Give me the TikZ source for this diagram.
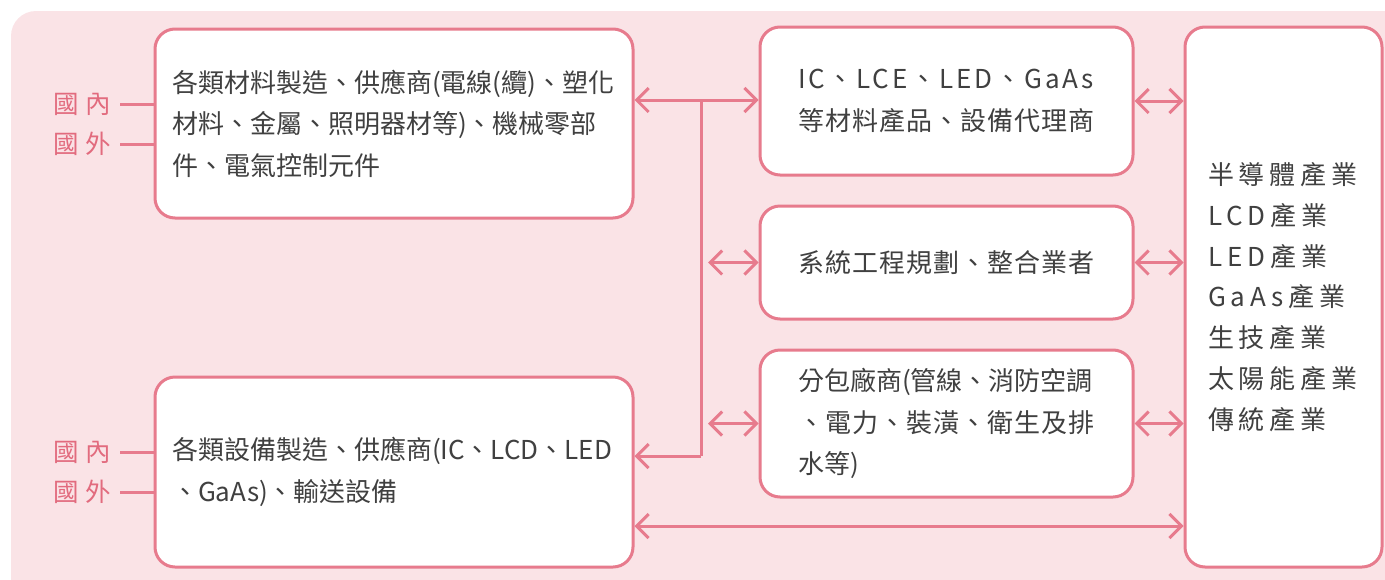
\documentclass[tikz,border=0pt]{standalone}
\usepackage{fontspec}
\setmainfont{Noto Sans CJK TC}
\newfontfamily\cjk{Noto Sans CJK TC}
\newfontfamily\cjkC[LetterSpace=4]{Noto Sans CJK TC}
\newfontfamily\cjkW[LetterSpace=11]{Noto Sans CJK TC}
\newfontfamily\cjkF[LetterSpace=19]{Noto Sans CJK TC}
\usetikzlibrary{arrows.meta,calc}
\definecolor{bgpink}{HTML}{FAE3E6}
\definecolor{pinkline}{HTML}{E77B8D}
\definecolor{labred}{HTML}{E26B7E}
\definecolor{txtgray}{HTML}{404040}
\tikzset{
  box/.style={draw=pinkline, line width=3pt, fill=white, rounded corners=20pt,
    rectangle, align=left, text=txtgray, inner ysep=0pt,
    font=\cjk\fontsize{26}{41.5}\selectfont},
  conn/.style={draw=pinkline, line width=3pt},
  barb/.tip={Straight Barb[length=12pt,width=24pt,line width=3pt]},
  lab/.style={text=labred, inner sep=0pt, font=\cjk\fontsize{25.5}{28}\selectfont},
}
\begin{document}
\begin{tikzpicture}[x=1pt,y=-1pt]
\useasboundingbox (0,0) rectangle (1385,579);
\begin{scope}
\clip (0,0) rectangle (1385,579);
\fill[bgpink, rounded corners=25pt] (11,11) rectangle (1410,610);
\end{scope}
% boxes
\node[box, minimum width=478pt, minimum height=189pt, inner xsep=17pt, text width=444pt] (A) at (394,123.5)
 {各類材料製造、供應商(電線(纜)、塑化\\材料、金屬、照明器材等)、機械零部\\件、電氣控制元件};
\node[box, minimum width=478pt, minimum height=190pt, inner xsep=17pt, text width=444pt] (B) at (394,472)
 {各類設備製造、供應商(IC、LCD、LED\\、GaAs)、輸送設備};
\node[box, minimum width=373pt, minimum height=148pt, inner xsep=38pt, text width=297pt] (C) at (946.5,101)
 {{\cjkW IC、LCE、LED、GaAs}\\{\cjkC 等材料產品、設備代理商}};
\node[box, minimum width=373pt, minimum height=113pt, inner xsep=38pt, text width=297pt] (D) at (946.5,262.5)
 {{\cjkC 系統工程規劃、整合業者}};
\node[box, minimum width=373pt, minimum height=147pt, inner xsep=38pt, text width=297pt] (E) at (946.5,423.5)
 {分包廠商(管線、消防空調\\{\cjkC 、電力、裝潢、衛生及排}\\水等)};
\node[box, minimum width=197pt, minimum height=540pt, inner xsep=23pt, text width=151pt,
  font=\cjkF\fontsize{26}{40.8}\selectfont] (F) at (1283.5,297)
 {半導體產業\\LCD產業\\LED產業\\GaAs產業\\生技產業\\太陽能產業\\傳統產業};
% labels
\node[lab, anchor=east] (la1) at (111,104) {國\hspace{6pt}內};
\node[lab, anchor=east] (la2) at (111,144) {國\hspace{6pt}外};
\node[lab, anchor=east] (lb1) at (111,452) {國\hspace{6pt}內};
\node[lab, anchor=east] (lb2) at (111,492) {國\hspace{6pt}外};
\draw[conn] ([xshift=9pt]la1.east) -- (A.west |- la1.east);
\draw[conn] ([xshift=9pt]la2.east) -- (A.west |- la2.east);
\draw[conn] ([xshift=9pt]lb1.east) -- (B.west |- lb1.east);
\draw[conn] ([xshift=9pt]lb2.east) -- (B.west |- lb2.east);
% junction
\coordinate (j1) at (701,100);
\coordinate (j2) at (701,456);
\coordinate (dl) at (708,262.5);
\coordinate (el) at (708,423.5);
\coordinate (bf) at (701,526);
\draw[conn, barb-barb] (A.east |- j1) -- (C.west |- j1);
\draw[conn] (j1) -- (j2);
\draw[conn, -barb] (j2) -- (B.east |- j2);
\draw[conn, barb-barb] (dl) -- (D.west);
\draw[conn, barb-barb] (el) -- (E.west);
\draw[conn, barb-barb] (C.east) -- (C.east -| F.west);
\draw[conn, barb-barb] (D.east) -- (D.east -| F.west);
\draw[conn, barb-barb] (E.east) -- (E.east -| F.west);
\draw[conn, barb-barb] (B.east |- bf) -- (F.west |- bf);
\end{tikzpicture}
\end{document}
